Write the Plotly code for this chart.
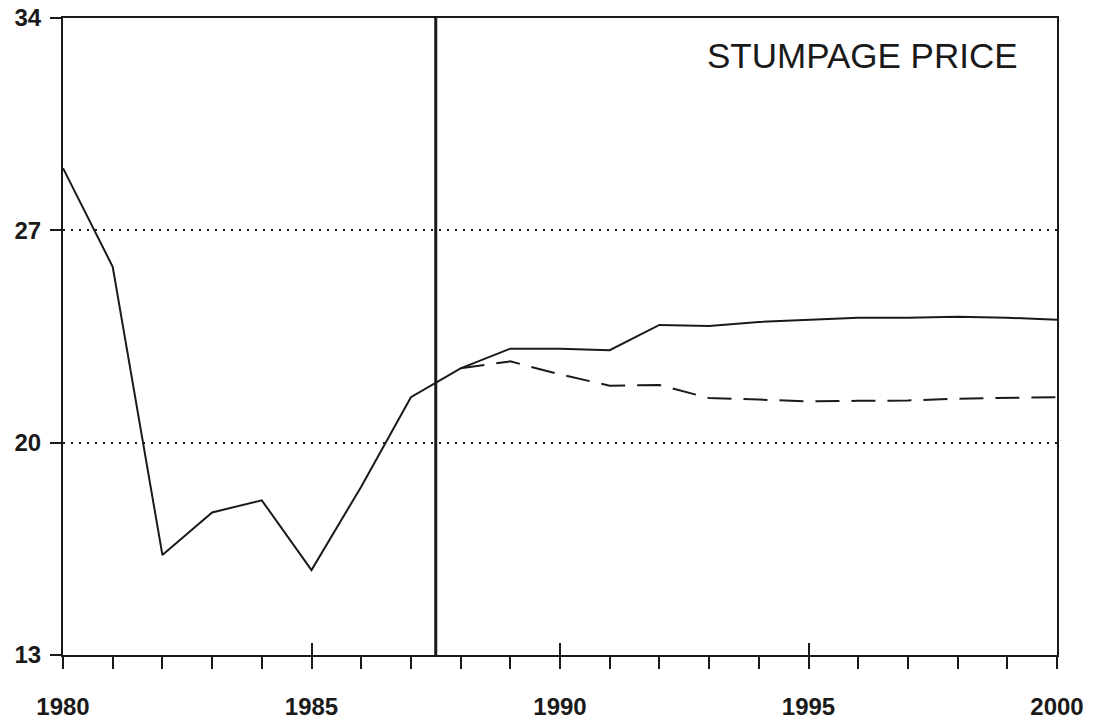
import plotly.graph_objects as go

# stumpage price, history + forecast
years = list(range(1980, 2001))
price_base = [29.05, 25.8, 16.3, 17.7, 18.1, 15.8, 18.55, 21.5, 22.45, 23.1, 23.1,
              23.05, 23.88, 23.85, 23.98, 24.04, 24.12, 24.12, 24.15, 24.12, 24.05]
alt_years = list(range(1988, 2001))
price_alt = [22.45, 22.68, 22.25, 21.88, 21.9, 21.47, 21.42, 21.36, 21.38, 21.39,
             21.45, 21.48, 21.5]
forecast_start = 1987.5
y_ticks = [13, 20, 27, 34]
x_ticks = [1980, 1985, 1990, 1995, 2000]
x_cross_ticks = [1985, 1990, 1995]
title_text = "STUMPAGE PRICE"

ink = "#1a1a1a"
font_family = "Liberation Sans, Arial"
fig = go.Figure()

fig.add_trace(go.Scatter(x=years, y=price_base, mode="lines",
                         line=dict(color=ink, width=2), showlegend=False))
fig.add_trace(go.Scatter(x=alt_years, y=price_alt, mode="lines",
                         line=dict(color=ink, width=2, dash="24px,12px"), showlegend=False))
fig.add_trace(go.Scatter(x=[forecast_start, forecast_start], y=[y_ticks[0], y_ticks[-1]],
                         mode="lines", line=dict(color=ink, width=3), showlegend=False))
# empty trace so the overlay axis (inward part of 5-year ticks) gets drawn
fig.add_trace(go.Scatter(x=x_cross_ticks, y=[None] * len(x_cross_ticks), xaxis="x2",
                         mode="lines", showlegend=False, hoverinfo="skip"))

fig.add_annotation(text=title_text, xref="paper", yref="paper", x=0.963, y=0.941,
                   xanchor="right", yanchor="middle", showarrow=False,
                   font=dict(family=font_family, size=35, color=ink))

fig.update_xaxes(range=[1980, 2000], tickvals=x_ticks, ticks="outside", ticklen=12,
                 tickwidth=2, tickcolor=ink, showgrid=False, zeroline=False,
                 showline=True, linecolor=ink, linewidth=2, mirror=True,
                 automargin=False, ticklabelstandoff=17, ticklabeloverflow="allow",
                 minor=dict(dtick=1, tick0=1980, ticks="outside", ticklen=12,
                            tickwidth=2, tickcolor=ink, showgrid=False),
                 tickfont=dict(family=font_family, size=24, color=ink, weight="bold"))
fig.update_yaxes(range=[13, 34], tickvals=y_ticks, ticks="outside", ticklen=11,
                 tickwidth=2, tickcolor=ink, showgrid=True, gridcolor=ink,
                 griddash="2px,6px", gridwidth=2, zeroline=False,
                 showline=True, linecolor=ink, linewidth=2, mirror=True,
                 automargin=False, ticklabelstandoff=4, ticklabeloverflow="allow",
                 tickfont=dict(family=font_family, size=24, color=ink, weight="bold"))

fig.update_layout(xaxis2=dict(overlaying="x", anchor="y", side="bottom", range=[1980, 2000],
                              tickvals=x_cross_ticks, ticks="inside", ticklen=12,
                              tickwidth=2, tickcolor=ink, showticklabels=False,
                              showgrid=False, zeroline=False, showline=False,
                              automargin=False))

# the page body adds an 8px offset, so the figure is sized to fit inside it
fig.update_layout(template="plotly_white", width=1086, height=715,
                  margin=dict(l=55, r=37, t=10, b=68),
                  plot_bgcolor="white", paper_bgcolor="white")
fig.write_html("out.html")
